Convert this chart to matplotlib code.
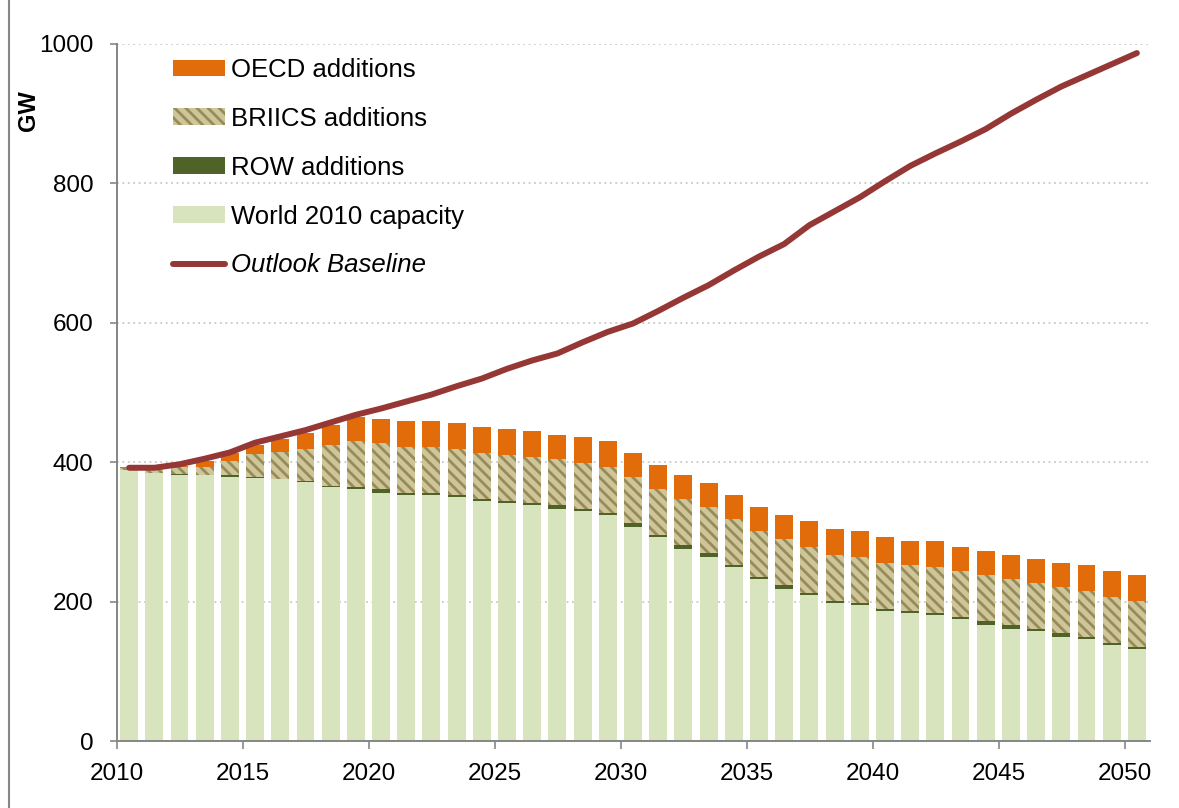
import matplotlib
matplotlib.use("Agg")
import matplotlib.pyplot as plt
from matplotlib.patches import Patch
from matplotlib.lines import Line2D
import numpy as np

plt.rcParams['font.family'] = ['Liberation Sans', 'DejaVu Sans']
plt.rcParams['hatch.linewidth'] = 2.0

years = list(range(2010, 2051))

world_2010 = [389, 385, 382, 381, 379, 378, 375.5, 371, 365, 362,
              356.4, 353.5, 353.5, 350, 345, 342, 339, 333.4, 330.5, 324.7,
              307.5, 293, 275.8, 264.3, 250, 232.6, 218, 209.8, 198.6, 195.7,
              186.6, 183.7, 180.8, 175.1, 166.4, 160.7, 157.8, 149.2, 146.3, 137.7,
              131.9]
row_add = [0, 0, 1.5, 0.5, 2, 0.5, 0.5, 2, 1.5, 2,
           5.2, 2.5, 2.5, 2.5, 2, 2.4, 2.5, 5.2, 2.5, 2.3,
           5.2, 2.5, 5.2, 5.3, 2.8, 2.9, 6, 2.9, 2.8, 2.9,
           2.9, 2.9, 2.9, 2.9, 5.8, 5.7, 2.9, 5.7, 2.9, 2.9,
           2.9]
briics_add = [2, 5, 9.5, 12, 21, 32.6, 38, 46.5, 58.5, 66.7,
              66.4, 66, 66, 66.5, 66.4, 66.1, 66.2, 66.2, 66, 66.3,
              66.3, 66.1, 66, 66.1, 65.7, 65.5, 65.7, 65.3, 65.3, 65.2,
              65.7, 65.7, 65.7, 65.7, 65.7, 65.7, 65.7, 65.7, 65.7, 65.7,
              65.7]
oecd_add = [2, 0, 1.5, 7.7, 11.5, 13.4, 18.7, 23, 29, 34,
            34, 37.5, 37.5, 37.6, 37.6, 37.5, 37.3, 34.2, 37.5, 37.4,
            34.4, 34.4, 35, 34.3, 34.5, 34.7, 34.3, 37.6, 37.3, 37.2,
            37.4, 34.5, 37.4, 34.5, 34.5, 34.6, 34.6, 34.6, 37.4, 37.4,
            37.4]
outlook_baseline = [392, 392, 397, 405, 414, 428, 437, 446, 457, 468,
                    477, 487, 497, 509, 520, 534, 546, 556, 572, 587,
                    599, 617, 636, 654, 675, 695, 713, 740, 760, 780,
                    803, 825, 843, 860, 878, 900, 920, 939, 955, 971,
                    987]

labels = ['OECD additions', 'BRIICS additions', 'ROW additions',
          'World 2010 capacity', 'Outlook Baseline']

c_oecd = '#E36C0A'
c_briics_face = '#CFC59A'
c_briics_hatch = '#968C58'
c_row = '#4F6228'
c_world = '#D7E4BD'
c_line = '#953735'
c_axis = '#868686'

W, H = 1179, 808
fig = plt.figure(figsize=(W / 100, H / 100), dpi=100)
ax = fig.add_axes([117 / W, 1 - 741 / H, (1150 - 117) / W, (741 - 44) / H])

# chart-area border visible at the left edge
fig.add_artist(Line2D([8.5 / W, 8.5 / W], [0, 1], transform=fig.transFigure,
                      color=c_axis, linewidth=1.5))

x = np.array(years) + 0.48
w = 0.71
world = np.array(world_2010)
row = np.array(row_add)
bri = np.array(briics_add)
oecd = np.array(oecd_add)

ax.bar(x, world, w, color=c_world, linewidth=0, zorder=2)
ax.bar(x, row, w, bottom=world, color=c_row, linewidth=0, zorder=2)
ax.bar(x, bri, w, bottom=world + row, facecolor=c_briics_face,
       edgecolor=c_briics_hatch, hatch='\\\\\\', linewidth=0, zorder=2)
ax.bar(x, oecd, w, bottom=world + row + bri, color=c_oecd, linewidth=0, zorder=2)
ax.plot(x, outlook_baseline, color=c_line, linewidth=4.3,
        solid_capstyle='round', solid_joinstyle='round', zorder=3)

ax.set_xlim(2010, 2051)
ax.set_ylim(0, 1000)
ax.set_xticks(range(2010, 2051, 5))
ax.set_yticks(range(0, 1001, 200))
ax.tick_params(axis='both', labelsize=17.5, color=c_axis, length=6, width=1.2)
ax.tick_params(axis='x', pad=10)
ax.tick_params(axis='y', pad=12, length=5)
for s in ['top', 'right']:
    ax.spines[s].set_visible(False)
for s in ['left', 'bottom']:
    ax.spines[s].set_color(c_axis)
    ax.spines[s].set_linewidth(1.4)
ax.yaxis.grid(True, linestyle=(0, (1, 2)), color='#C8C8C8', linewidth=1.3, zorder=0)
ax.set_axisbelow(True)

ax.set_ylabel('GW', fontsize=17, fontweight='bold')
ax.yaxis.set_label_coords(-0.0745, 0.905)

handles = [
    Patch(facecolor=c_oecd, linewidth=0),
    Patch(facecolor=c_briics_face, edgecolor=c_briics_hatch, hatch='\\\\\\', linewidth=0),
    Patch(facecolor=c_row, linewidth=0),
    Patch(facecolor=c_world, linewidth=0),
    Line2D([0], [0], color=c_line, linewidth=4.3, solid_capstyle='round'),
]
leg = ax.legend(handles, labels, loc='upper left', bbox_to_anchor=(0.044, 0.995),
                frameon=False, fontsize=18.5, handlelength=2.05, handleheight=0.6,
                handletextpad=0.2, labelspacing=0.97, borderaxespad=0)
leg.get_texts()[4].set_fontstyle('italic')

fig.savefig('out.png', dpi=100)
